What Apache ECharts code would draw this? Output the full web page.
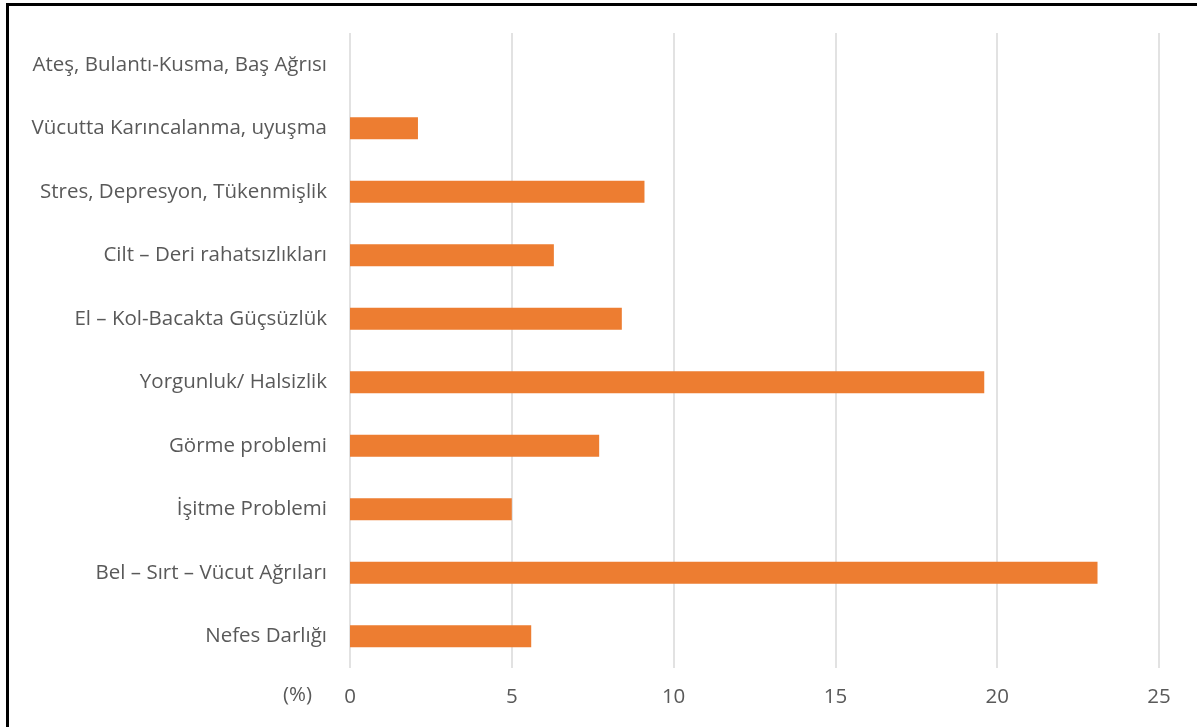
<!DOCTYPE html>
<html>
<head>
<meta charset="utf-8">
<script src="https://cdn.jsdelivr.net/npm/echarts@6/dist/echarts.min.js"></script>
<style>
html,body{margin:0;padding:0;background:#fff;}
#frame{position:absolute;left:6px;top:3px;width:1300px;height:800px;border-left:3px solid #000;border-top:3px solid #000;box-sizing:border-box;}
#chart{position:absolute;left:0;top:0;width:1197px;height:727px;}
</style>
</head>
<body>
<div id="frame"></div>
<div id="chart"></div>
<script>
const categories = [
  "Nefes Darlığı",
  "Bel – Sırt – Vücut Ağrıları",
  "İşitme Problemi",
  "Görme problemi",
  "Yorgunluk/ Halsizlik",
  "El – Kol-Bacakta Güçsüzlük",
  "Cilt – Deri rahatsızlıkları",
  "Stres, Depresyon, Tükenmişlik",
  "Vücutta Karıncalanma, uyuşma",
  "Ateş, Bulantı-Kusma, Baş Ağrısı"
];
const values = [5.6, 23.1, 5.0, 7.7, 19.6, 8.4, 6.3, 9.1, 2.1, 0];
const xTicks = [0, 5, 10, 15, 20, 25];
const unitLabel = "(%)";

const font = '"Open Sans", sans-serif';
const fs = 20.5;
const chart = echarts.init(document.getElementById('chart'), null, {renderer: 'canvas'});
chart.setOption({
  animation: false,
  backgroundColor: 'transparent',
  grid: {left: 350, right: 38, top: 33, bottom: 59, containLabel: false},
  xAxis: {
    type: 'value',
    min: xTicks[0],
    max: xTicks[xTicks.length - 1],
    interval: xTicks[1] - xTicks[0],
    axisLine: {show: false},
    axisTick: {show: false},
    axisLabel: {color: '#595959', fontSize: fs, fontFamily: font, margin: 19},
    splitLine: {show: true, lineStyle: {color: '#d9d9d9', width: 1.5}}
  },
  yAxis: {
    type: 'category',
    data: categories,
    axisLine: {show: false},
    axisTick: {show: false},
    axisLabel: {color: '#595959', fontSize: fs, fontFamily: font, margin: 23}
  },
  graphic: [{
    type: 'text',
    right: 1197 - 312,
    top: 685,
    style: {text: unitLabel, fill: '#595959', fontSize: fs, fontFamily: font}
  }],
  series: [{
    type: 'bar',
    data: values,
    barWidth: 22,
    itemStyle: {color: '#ED7D31'}
  }]
});
</script>
</body>
</html>
